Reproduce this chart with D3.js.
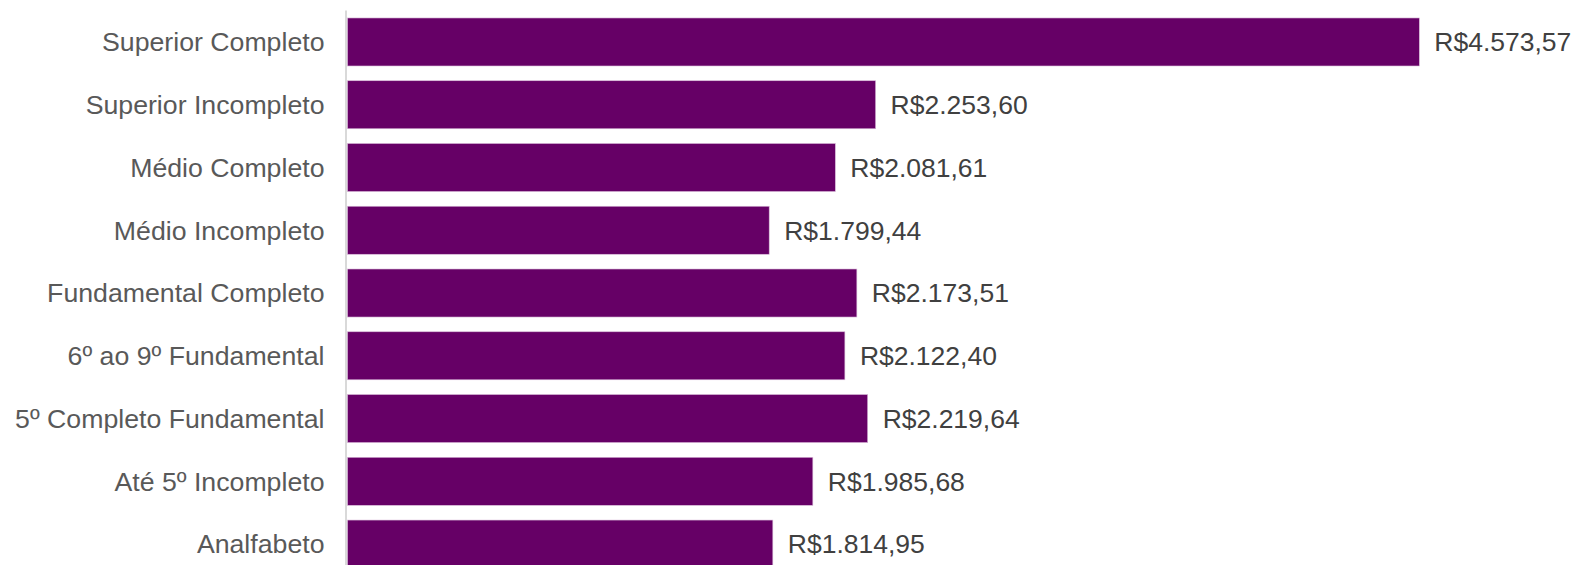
<!DOCTYPE html>
<html>
<head>
<meta charset="utf-8">
<script src="https://cdn.jsdelivr.net/npm/d3@7"></script>
<style>
  body { margin: 0; background: #fff; }
  svg { display: block; font-family: "Liberation Sans", Arial, sans-serif; }
</style>
</head>
<body>
<svg id="chart" width="1577" height="565"></svg>
<script>

/*****************************/
/*           Data            */
/*****************************/
const categories = [
  "Superior Completo",
  "Superior Incompleto",
  "Médio Completo",
  "Médio Incompleto",
  "Fundamental Completo",
  "6º ao 9º Fundamental",
  "5º Completo Fundamental",
  "Até 5º Incompleto",
  "Analfabeto"
];

const values = [4573.57, 2253.60, 2081.61, 1799.44, 2173.51, 2122.40, 2219.64, 1985.68, 1814.95];

const data = categories.map((c, i) => ({ label: c, value: values[i] }));

/*****************************/
/*        Dimensions         */
/*****************************/
const margin = { top: 10.6, left: 347.5 };
const innerWidth = 1419.3 - margin.left;
const step = 62.76;
const innerHeight = step * categories.length;

const svg = d3.select("#chart");

const innerChart = svg.append("g")
  .attr("transform", `translate(${margin.left}, ${margin.top})`);

const xScale = d3.scaleLinear()
  .domain([0, d3.max(values)])
  .range([0, innerWidth]);

const yScale = d3.scaleBand()
  .domain(categories)
  .range([0, innerHeight])
  .paddingInner(0.235)
  .paddingOuter(0.1175);

const brl = v => "R$" + d3.formatLocale({
  decimal: ",", thousands: ".", grouping: [3], currency: ["R$", ""]
}).format(",.2f")(v);

/*****************************/
/*           Bars            */
/*****************************/
innerChart.selectAll(".bar")
  .data(data)
  .join("rect")
    .attr("class", "bar")
    .attr("x", 0)
    .attr("y", d => yScale(d.label))
    .attr("width", d => xScale(d.value))
    .attr("height", yScale.bandwidth())
    .attr("fill", "#660066")
    .attr("stroke", "#d8b8d8")
    .attr("stroke-width", 0.6);

/*****************************/
/*           Axis            */
/*****************************/
innerChart.append("line")
  .attr("x1", -1.5)
  .attr("x2", -1.5)
  .attr("y1", 0)
  .attr("y2", innerHeight + 20)
  .attr("stroke", "#d9d9d9")
  .attr("stroke-width", 2);

innerChart.selectAll(".cat-label")
  .data(data)
  .join("text")
    .attr("class", "cat-label")
    .attr("x", -23)
    .attr("y", d => yScale(d.label) + yScale.bandwidth() / 2)
    .attr("dy", "0.35em")
    .attr("text-anchor", "end")
    .attr("fill", "#595959")
    .style("font-size", "26.7px")
    .text(d => d.label);

/*****************************/
/*       Value labels        */
/*****************************/
innerChart.selectAll(".val-label")
  .data(data)
  .join("text")
    .attr("class", "val-label")
    .attr("x", d => xScale(d.value) + 15)
    .attr("y", d => yScale(d.label) + yScale.bandwidth() / 2)
    .attr("dy", "0.35em")
    .attr("fill", "#404040")
    .style("font-size", "26.5px")
    .text(d => brl(d.value));

</script>
</body>
</html>
